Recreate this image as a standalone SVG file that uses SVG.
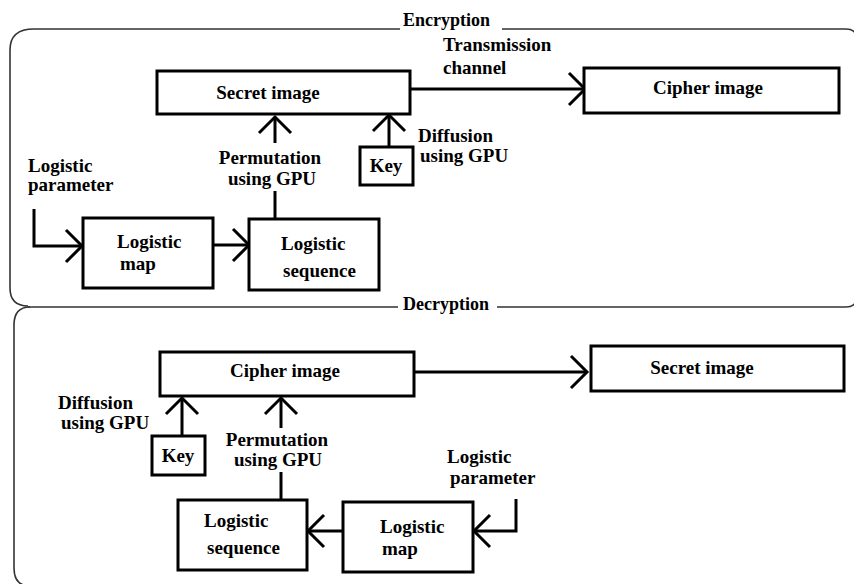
<svg xmlns="http://www.w3.org/2000/svg" width="854" height="584" viewBox="0 0 854 584">
<defs>
<style>
.panel{fill:none;stroke:#333;stroke-width:1.6}
.box{fill:#fff;stroke:#000;stroke-width:3}
.wire{fill:none;stroke:#000;stroke-width:3}
.t{font-family:"Liberation Serif","Times New Roman",serif;font-weight:bold;font-size:19px;fill:#000}
.h{font-family:"Liberation Serif","Times New Roman",serif;font-weight:bold;font-size:18px;fill:#000}
.m{text-anchor:middle}
</style>
<marker id="chev" viewBox="-20 -20 24 40" refX="0" refY="0" markerWidth="24" markerHeight="40" markerUnits="userSpaceOnUse" orient="auto" overflow="visible">
<path d="M-16,-16 L0,0 L-16,16" fill="none" stroke="#000" stroke-width="3"/>
</marker>
</defs>
<g id="panels">
<path class="panel" d="M400,29 L34,29 Q10,29 10,50 L10,288 Q10,306 28,306"/>
<path class="panel" d="M502,29 L846,29 Q857,29 857,40 L857,296 Q857,307 846,307"/>
<path class="panel" d="M28,307 L398,307 M497,307 L846,307"/>
<path class="panel" d="M30,307 Q14,307 14,325 L14,568 Q14,586 30,586"/>
<text class="h" x="403" y="26">Encryption</text>
<text class="h" x="403" y="310">Decryption</text>
</g>
<g id="connectors">
<path class="wire" d="M410,89 L585,89" marker-end="url(#chev)"/>
<path class="wire" d="M275,143 L275,117" marker-end="url(#chev)"/>
<path class="wire" d="M275,191 L275,219"/>
<path class="wire" d="M389,147 L389,115" marker-end="url(#chev)"/>
<path class="wire" d="M34,209 L34,246 L82,246" marker-end="url(#chev)"/>
<path class="wire" d="M213,245 L249,245" marker-end="url(#chev)"/>
<path class="wire" d="M414,372 L587,372" marker-end="url(#chev)"/>
<path class="wire" d="M182,436 L182,398" marker-end="url(#chev)"/>
<path class="wire" d="M281,428 L281,398" marker-end="url(#chev)"/>
<path class="wire" d="M281,472 L281,500"/>
<path class="wire" d="M343,531 L308,531" marker-end="url(#chev)"/>
<path class="wire" d="M516,499 L516,531 L474,531" marker-end="url(#chev)"/>
</g>
<g id="enc-secret">
<rect class="box" x="157" y="71" width="253" height="43"/>
<text class="t m" x="268" y="99">Secret image</text>
</g>
<g id="enc-cipher">
<rect class="box" x="584" y="68" width="255" height="45"/>
<text class="t m" x="708" y="94">Cipher image</text>
</g>
<g id="enc-key">
<rect class="box" x="360" y="147" width="53" height="38"/>
<text class="t m" x="386" y="172">Key</text>
</g>
<g id="enc-map">
<rect class="box" x="83" y="218" width="130" height="70"/>
<text class="t" x="117" y="248">Logistic</text>
<text class="t" x="120" y="270">map</text>
</g>
<g id="enc-seq">
<rect class="box" x="249" y="219" width="130" height="71"/>
<text class="t" x="281" y="250">Logistic</text>
<text class="t" x="283" y="277">sequence</text>
</g>
<g id="enc-labels">
<text class="t" x="443" y="51">Transmission</text>
<text class="t" x="443" y="74">channel</text>
<text class="t m" x="270" y="164">Permutation</text>
<text class="t m" x="272" y="185">using GPU</text>
<text class="t" x="418" y="142">Diffusion</text>
<text class="t" x="420" y="162">using GPU</text>
<text class="t" x="28" y="172">Logistic</text>
<text class="t" x="28" y="191">parameter</text>
</g>
<g id="dec-cipher">
<rect class="box" x="160" y="352" width="254" height="44"/>
<text class="t m" x="285" y="377">Cipher image</text>
</g>
<g id="dec-secret">
<rect class="box" x="591" y="346" width="253" height="45"/>
<text class="t m" x="702" y="374">Secret image</text>
</g>
<g id="dec-key">
<rect class="box" x="152" y="436" width="53" height="39"/>
<text class="t m" x="178" y="462">Key</text>
</g>
<g id="dec-seq">
<rect class="box" x="178" y="500" width="129" height="70"/>
<text class="t" x="204" y="527">Logistic</text>
<text class="t" x="207" y="554">sequence</text>
</g>
<g id="dec-map">
<rect class="box" x="343" y="502" width="130" height="70"/>
<text class="t" x="380" y="533">Logistic</text>
<text class="t" x="382" y="555">map</text>
</g>
<g id="dec-labels">
<text class="t" x="58" y="409">Diffusion</text>
<text class="t" x="61" y="429">using GPU</text>
<text class="t m" x="277" y="446">Permutation</text>
<text class="t m" x="278" y="466">using GPU</text>
<text class="t" x="447" y="463">Logistic</text>
<text class="t" x="450" y="484">parameter</text>
</g>
</svg>
